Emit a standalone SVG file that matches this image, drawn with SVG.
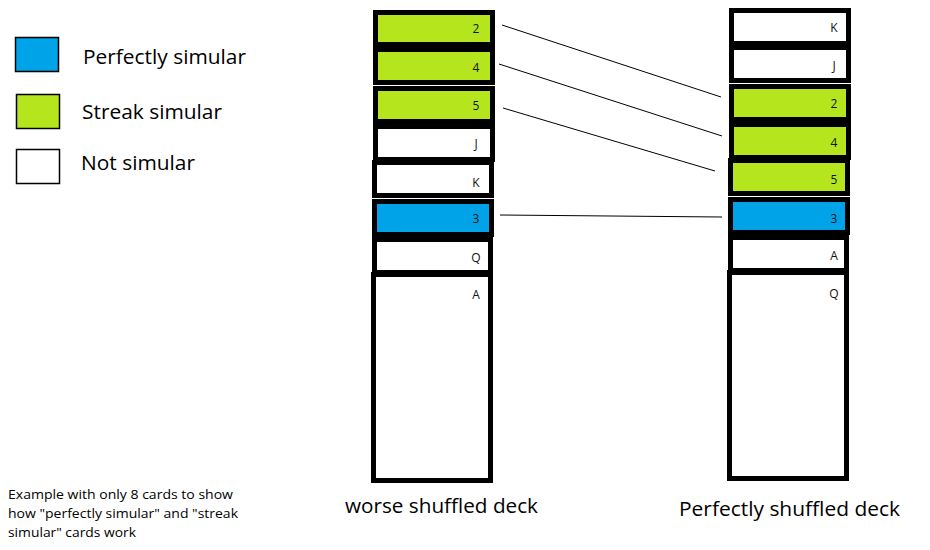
<svg xmlns="http://www.w3.org/2000/svg" width="930" height="550" viewBox="0 0 930 550">
<style>
.card{stroke:#000;stroke-width:5}
.w{fill:#fff}
.g{fill:#b5e61d}
.b{fill:#00a2e8}
.lbl{font-family:"Open Sans","Noto Sans",sans-serif;font-size:12px;fill:#111;text-anchor:middle}
.leg{font-family:"Open Sans","Noto Sans",sans-serif;font-size:20px;fill:#000}
.cap{font-family:"Open Sans","Noto Sans",sans-serif;font-size:20px;fill:#000}
.note{font-family:"Open Sans","Noto Sans",sans-serif;font-size:13px;fill:#000}
.conn{stroke:#000;stroke-width:1;fill:none}
.lbox{stroke:#000;stroke-width:1.5}
</style>
<rect width="930" height="550" fill="#fff"/>
<g id="legend">
<rect class="lbox b" x="15.5" y="37.5" width="43" height="34"/>
<rect class="lbox g" x="16.5" y="94.5" width="43" height="34"/>
<rect class="lbox w" x="16.5" y="149.5" width="43" height="34"/>
<text class="leg" x="83" y="64" textLength="163" lengthAdjust="spacingAndGlyphs">Perfectly simular</text>
<text class="leg" x="82" y="119" textLength="140" lengthAdjust="spacingAndGlyphs">Streak simular</text>
<text class="leg" x="81" y="170" textLength="114" lengthAdjust="spacingAndGlyphs">Not simular</text>
</g>
<g id="connectors">
<line class="conn" x1="502" y1="25" x2="721" y2="97"/>
<line class="conn" x1="499" y1="64" x2="722" y2="136"/>
<line class="conn" x1="503" y1="108" x2="715" y2="171"/>
<line class="conn" x1="500" y1="215" x2="722" y2="217"/>
</g>
<g id="left-deck">
<g id="L8"><rect class="card w" x="373.5" y="274.5" width="117" height="206"/><text class="lbl" x="476" y="299">A</text></g>
<g id="L7"><rect class="card w" x="374.5" y="239.5" width="116" height="33"/><text class="lbl" x="476" y="262">Q</text></g>
<g id="L6"><rect class="card b" x="374.5" y="201.5" width="117" height="33"/><text class="lbl" x="476" y="223">3</text></g>
<g id="L5"><rect class="card w" x="374.5" y="162.5" width="117" height="33"/><text class="lbl" x="476" y="187">K</text></g>
<g id="L4"><rect class="card w" x="375.5" y="126.5" width="117" height="33"/><text class="lbl" x="476" y="148">J</text></g>
<g id="L3"><rect class="card g" x="375.5" y="88.5" width="117" height="33"/><text class="lbl" x="476" y="110">5</text></g>
<g id="L2"><rect class="card g" x="375.5" y="49.5" width="117" height="33"/><text class="lbl" x="476" y="72">4</text></g>
<g id="L1"><rect class="card g" x="375.5" y="12.5" width="117" height="32"/><text class="lbl" x="476" y="33">2</text></g>
</g>
<g id="right-deck">
<g id="R8"><rect class="card w" x="729.5" y="272.5" width="117" height="206"/><text class="lbl" x="834" y="298">Q</text></g>
<g id="R7"><rect class="card w" x="730.5" y="237.5" width="116" height="33"/><text class="lbl" x="834" y="260">A</text></g>
<g id="R6"><rect class="card b" x="730.5" y="199.5" width="117" height="33"/><text class="lbl" x="834" y="223">3</text></g>
<g id="R5"><rect class="card g" x="730.5" y="160.5" width="117" height="33"/><text class="lbl" x="834" y="184">5</text></g>
<g id="R4"><rect class="card g" x="731.5" y="124.5" width="117" height="33"/><text class="lbl" x="834" y="147">4</text></g>
<g id="R3"><rect class="card g" x="731.5" y="86.5" width="117" height="33"/><text class="lbl" x="834" y="108">2</text></g>
<g id="R2"><rect class="card w" x="731.5" y="47.5" width="117" height="33"/><text class="lbl" x="834" y="70">J</text></g>
<g id="R1"><rect class="card w" x="731.5" y="10.5" width="117" height="33"/><text class="lbl" x="834" y="32">K</text></g>
</g>
<g id="captions">
<text class="cap" x="345" y="513" textLength="193" lengthAdjust="spacingAndGlyphs">worse shuffled deck</text>
<text class="cap" x="679" y="516" textLength="221" lengthAdjust="spacingAndGlyphs">Perfectly shuffled deck</text>
<text class="note" x="8" y="499" textLength="225" lengthAdjust="spacingAndGlyphs">Example with only 8 cards to show</text>
<text class="note" x="8" y="518" textLength="230" lengthAdjust="spacingAndGlyphs">how "perfectly simular" and "streak</text>
<text class="note" x="8" y="537" textLength="128" lengthAdjust="spacingAndGlyphs">simular" cards work</text>
</g>
</svg>
